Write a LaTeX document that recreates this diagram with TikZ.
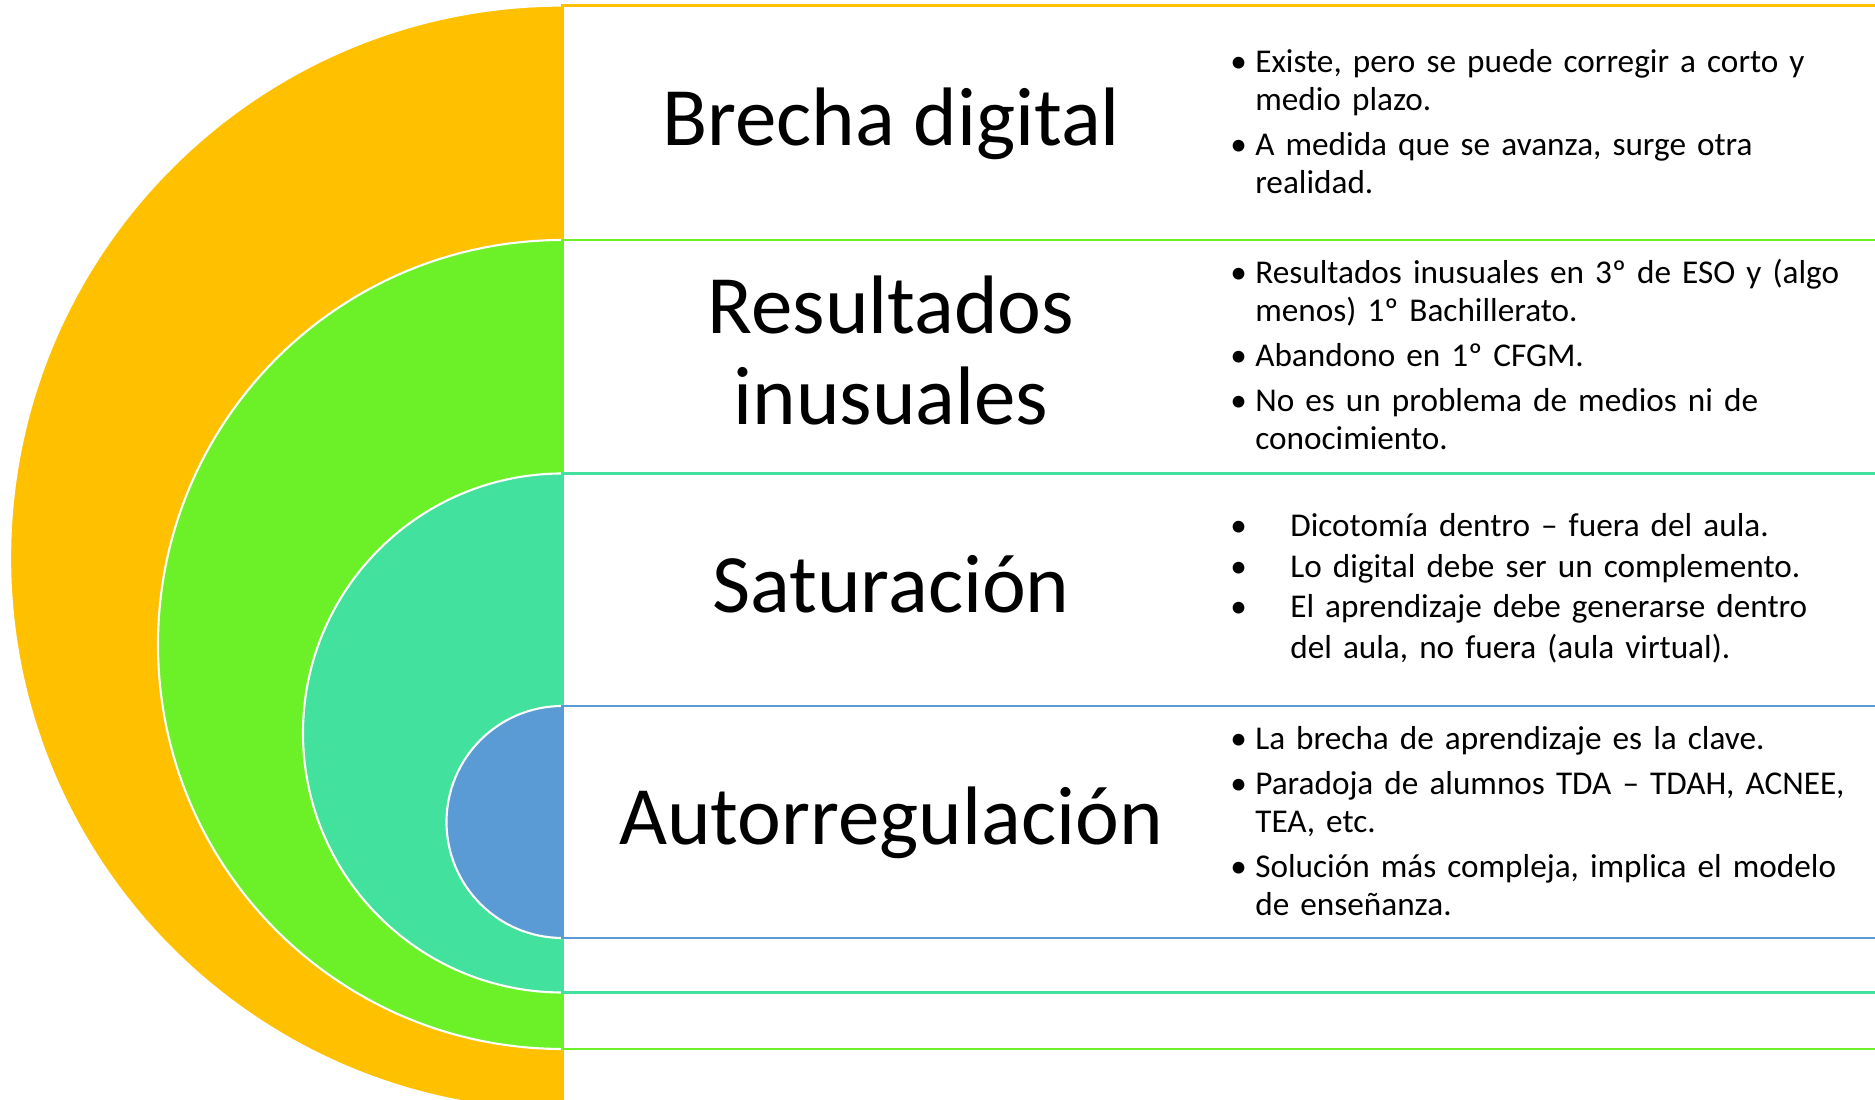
\documentclass[tikz,border=0pt]{standalone}
\usepackage{fontspec}
\setmainfont{Carlito}
\usetikzlibrary{positioning}

\definecolor{ringorange}{HTML}{FFC000}
\definecolor{ringgreen}{HTML}{6CF129}
\definecolor{ringteal}{HTML}{42E19D}
\definecolor{ringblue}{HTML}{5B9BD5}

\newlength{\bindent}
\newcommand{\bpoint}[1]{\par\hangindent=\bindent\hangafter=1\noindent\strut\makebox[\bindent][l]{\textbullet}#1\par}

\tikzset{
	ringtitle/.style={font=\fontsize{23.6pt}{25.9pt}\selectfont, align=center, inner sep=0pt},
	ringpoints/.style={anchor=north west, inner sep=0pt, text width=6.4cm, align=left,
		font=\fontsize{9.45pt}{10.8pt}\selectfont,
		execute at begin node={\setlength{\parskip}{2pt}\setlength{\bindent}{0.25cm}}},
}

\begin{document}
\begin{tikzpicture}[x=0.01cm, y=0.01cm]
		\useasboundingbox (0,0) rectangle (1875,1100);
		\clip (0,0) rectangle (1875,1100);

		% half discs and their boxes, outer to inner
		\foreach \col/\cy/\r in {ringorange/542/552.4, ringgreen/455.5/404.5,
			ringteal/367/259.5, ringblue/278/116}{
			\filldraw[fill=\col, draw=white, line width=0.6pt] (562.5,\cy+\r) arc (90:270:\r) -- cycle;
			\draw[\col, fill=white, line width=0.7pt] (562.5,\cy-\r) rectangle (1890,\cy+\r);
		}

		\node[ringtitle, anchor=base] (brecha) at (891,954.3) {Brecha digital};
		\node[ringtitle, anchor=base] (resultados) at (891,675) {Resultados\\inusuales};
		\node[ringtitle, anchor=base] (saturacion) at (891,487.7) {Saturación};
		\node[ringtitle, anchor=base] (autorreg) at (891,255) {Autorregulación};

		\node[ringpoints] (brechapts) at (1229.6,1073) {%
			\bpoint{Existe, pero se puede corregir a corto y\newline medio plazo.}
			\bpoint{A medida que se avanza, surge otra\newline realidad.}};
		\node[ringpoints] (resultadospts) at (1229.6,862) {%
			\bpoint{Resultados inusuales en 3º de ESO y (algo\newline menos) 1º Bachillerato.}
			\bpoint{Abandono en 1º CFGM.}
			\bpoint{No es un problema de medios ni de\newline conocimiento.}};
		\node[ringpoints, font=\fontsize{9.45pt}{11.5pt}\selectfont,
			execute at begin node={\setlength{\parskip}{0pt}\setlength{\bindent}{0.6cm}}]
			(saturacionpts) at (1229.6,604.3) {%
			\bpoint{Dicotomía dentro – fuera del aula.}
			\bpoint{Lo digital debe ser un complemento.}
			\bpoint{El aprendizaje debe generarse dentro\newline del aula, no fuera (aula virtual).}};
		\node[ringpoints] (autorregpts) at (1229.6,396.4) {%
			\bpoint{La brecha de aprendizaje es la clave.}
			\bpoint{Paradoja de alumnos TDA – TDAH, ACNEE,\newline TEA, etc.}
			\bpoint{Solución más compleja, implica el modelo\newline de enseñanza.}};
\end{tikzpicture}
\end{document}
